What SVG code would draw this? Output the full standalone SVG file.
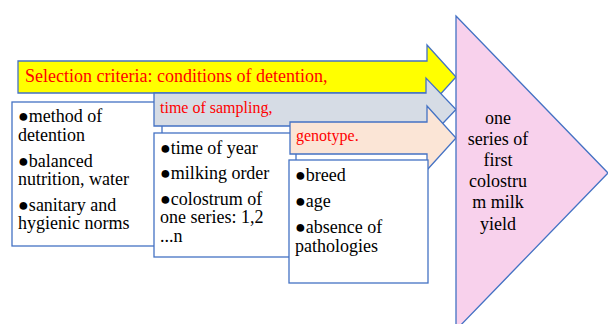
<svg xmlns="http://www.w3.org/2000/svg" width="608" height="324" viewBox="0 0 608 324">
<style>
.s{stroke:#4472C4;stroke-width:1.3;}
.box{fill:#FFFFFF;}
text{font-family:'Liberation Serif','Tinos','DejaVu Serif',serif;}
.t{font-size:18px;fill:#000000;}
.r{fill:#FF0000;}
.c{text-anchor:middle;}
</style>
<rect width="608" height="324" fill="#FFFFFF"/>
<g id="connectors">
<g id="arrow-selection">
<polygon class="s" fill="#FFFF00" points="18,61 427,61 427,45 456,77 427,109 427,93 18,93"/>
<text class="r" x="25" y="82" font-size="18">Selection criteria: conditions of detention,</text>
</g>
</g>
<g id="box-detention">
<rect class="s box" x="12" y="102" width="150" height="144"/>
<text class="t" x="18" y="122">●method of</text>
<text class="t" x="18" y="141">detention</text>
<text class="t" x="18" y="167">●balanced</text>
<text class="t" x="18" y="185">nutrition, water</text>
<text class="t" x="18" y="211">●sanitary and</text>
<text class="t" x="18" y="229">hygienic norms</text>
</g>
<g id="arrow-sampling">
<polygon class="s" fill="#D6DCE5" points="154,93 426,93 426,78 456,109.5 426,141 426,126 154,126"/>
<text class="r" x="160" y="113" font-size="16">time of sampling,</text>
</g>
<g id="box-sampling">
<rect class="s box" x="154" y="133" width="142" height="124"/>
<text class="t" x="160" y="154">●time of year</text>
<text class="t" x="160" y="179">●milking order</text>
<text class="t" x="160" y="205">●colostrum of</text>
<text class="t" x="160" y="223">one series: 1,2</text>
<text class="t" x="160" y="242">...n</text>
</g>
<g id="arrow-genotype">
<polygon class="s" fill="#FBE5D6" points="290,122 427,122 427,106 456,138 427,170 427,154 290,154"/>
<text class="r" x="296" y="141" font-size="16">genotype.</text>
</g>
<g id="box-genotype">
<rect class="s box" x="289" y="160" width="139" height="123"/>
<text class="t" x="295" y="181">●breed</text>
<text class="t" x="295" y="207">●age</text>
<text class="t" x="295" y="233">●absence of</text>
<text class="t" x="295" y="252">pathologies</text>
</g>
<g id="result">
<polygon class="s" fill="#F8D1EC" points="456,16 608,173 456,330"/>
<text class="t c" x="498" y="124">one</text>
<text class="t c" x="498" y="145">series of</text>
<text class="t c" x="498" y="166">first</text>
<text class="t c" x="498" y="187">colostru</text>
<text class="t c" x="498" y="208">m milk</text>
<text class="t c" x="498" y="230">yield</text>
</g>
</svg>
